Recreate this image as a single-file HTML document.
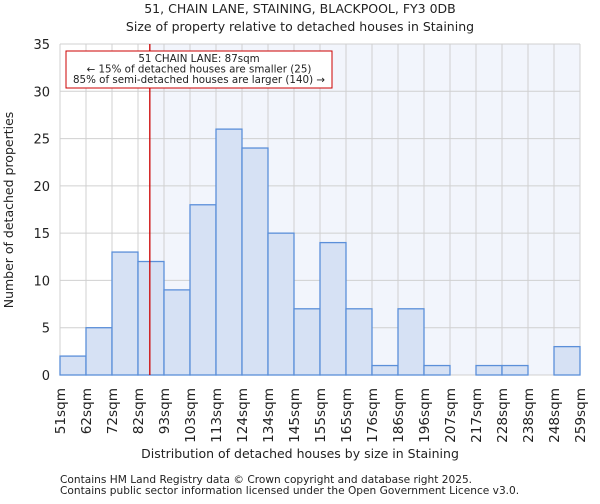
<!DOCTYPE html>
<html><head><meta charset="utf-8"><style>
body{margin:0;background:#fff;font-family:"DejaVu Sans","Liberation Sans",sans-serif}
svg text{font-family:"DejaVu Sans","Liberation Sans",sans-serif;fill:#222}
</style></head><body>
<svg id="c" width="600" height="500" xmlns="http://www.w3.org/2000/svg">
<text x="300" y="13" text-anchor="middle" font-size="12.5">51, CHAIN LANE, STAINING, BLACKPOOL, FY3 0DB</text>
<text x="300" y="31" text-anchor="middle" font-size="12.5">Size of property relative to detached houses in Staining</text>
<g id="plot"></g>
<text x="300" y="458" text-anchor="middle" font-size="12.5">Distribution of detached houses by size in Staining</text>
<text transform="translate(13,210) rotate(-90)" text-anchor="middle" font-size="12.5">Number of detached properties</text>
<text x="60" y="483" font-size="10.6" fill="#444">Contains HM Land Registry data © Crown copyright and database right 2025.</text>
<text x="60" y="494" font-size="10.6" fill="#444">Contains public sector information licensed under the Open Government Licence v3.0.</text>
</svg>
<script>
const binLabels=["51sqm","62sqm","72sqm","82sqm","93sqm","103sqm","113sqm","124sqm","134sqm","145sqm","155sqm","165sqm","176sqm","186sqm","196sqm","207sqm","217sqm","228sqm","238sqm","248sqm","259sqm"];
const counts=[2,5,13,12,9,18,26,24,15,7,14,7,1,7,1,0,1,1,0,3];
const yTicks=[0,5,10,15,20,25,30,35];
const propertySize=87;
const binEdges=[51,62,72,82,93,103,113,124,134,145,155,165,176,186,196,207,217,228,238,248,259];
const L=60,R=580,T=44,B=375,yMax=35;
const ns="http://www.w3.org/2000/svg";
const g=document.getElementById('plot');
const bw=(R-L)/counts.length;
const xb=i=>L+i*bw;
const y=v=>B-(v/yMax)*(B-T);
function xv(v){for(let i=0;i<binEdges.length-1;i++){if(v<=binEdges[i+1])return xb(i)+bw*(v-binEdges[i])/(binEdges[i+1]-binEdges[i]);}return R;}
function mk(t,a){const e=document.createElementNS(ns,t);for(const k in a)e.setAttribute(k,a[k]);g.appendChild(e);return e;}
const px=xv(propertySize);
let e=mk('rect',{x:L,y:T,width:R-L,height:B-T,fill:'#fff'});


e=mk('rect',{x:px,y:T,width:R-px,height:B-T,fill:'#f2f5fc'});


for(let i=0;i<=counts.length;i++){e=mk('line',{x1:xb(i),x2:xb(i),y1:T,y2:B,stroke:'#d0d0d0','stroke-width':1});

}
yTicks.forEach(t=>{e=mk('line',{x1:L,x2:R,y1:y(t),y2:y(t),stroke:'#d0d0d0','stroke-width':1});


e=mk('text',{x:L-10,y:y(t)+5,'text-anchor':'end','font-size':13});e.textContent=t;

});
counts.forEach((c,i)=>{if(c<=0)return;e=mk('rect',{x:xb(i),y:y(c),width:bw,height:B-y(c),fill:'#d6e1f4',stroke:'#5b8fd9','stroke-width':1.3});

});
binLabels.forEach((l,i)=>{e=mk('text',{transform:`translate(${xb(i)+5},388) rotate(-90)`,'text-anchor':'end','font-size':13.6});e.textContent=l;

});
e=mk('line',{x1:px,x2:px,y1:T,y2:B,stroke:'#cc0000','stroke-width':1.3});


e=mk('rect',{x:66,y:51,width:266,height:37,fill:'#fff',stroke:'#cc0000','stroke-width':1});


["51 CHAIN LANE: 87sqm","← 15% of detached houses are smaller (25)","85% of semi-detached houses are larger (140) →"].forEach((s,i)=>{e=mk('text',{x:199,y:62+i*10.5,'text-anchor':'middle','font-size':10.3});e.textContent=s;

});
</script>
</body></html>
